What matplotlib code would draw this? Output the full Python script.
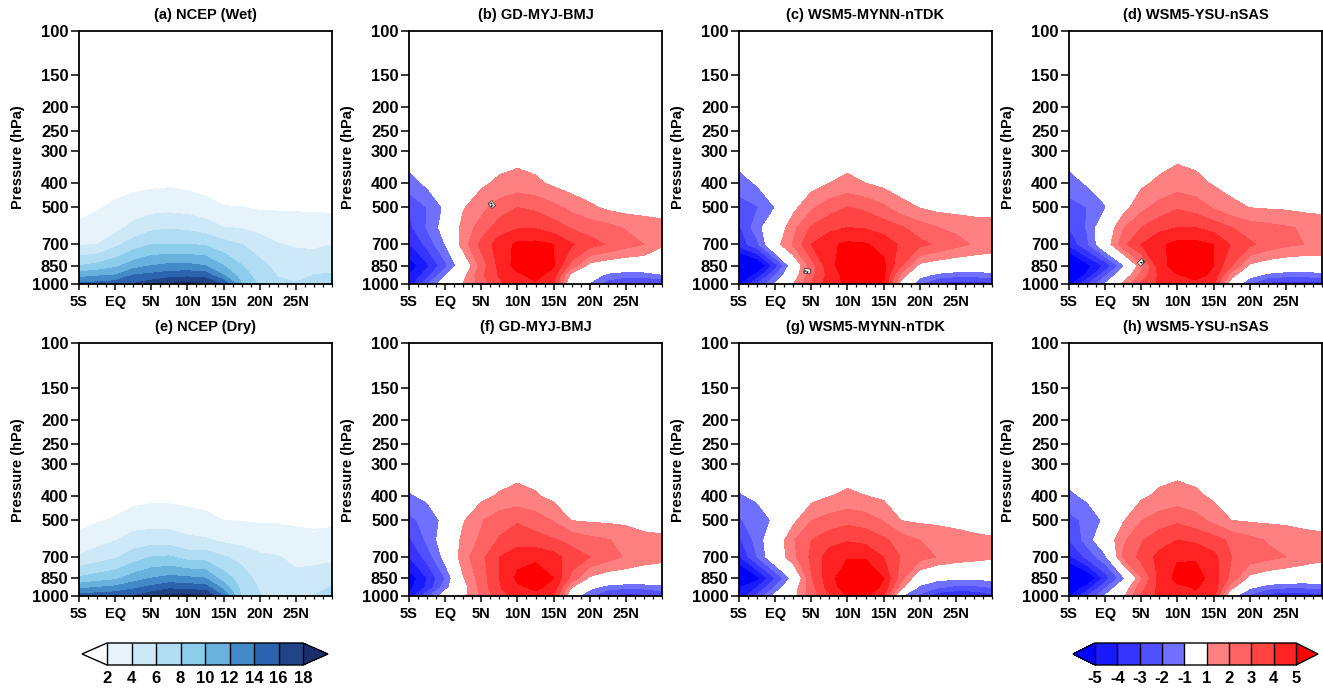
import numpy as np
import matplotlib
matplotlib.use('Agg')
import matplotlib.pyplot as plt
from matplotlib.colors import ListedColormap, BoundaryNorm
from matplotlib.ticker import MultipleLocator, NullLocator

plt.rcParams['font.family'] = ['Liberation Sans', 'DejaVu Sans']
plt.rcParams['font.weight'] = 'bold'
plt.rcParams['axes.titleweight'] = 'bold'
plt.rcParams['axes.labelweight'] = 'bold'

# grid: latitude (deg, negative = S) and pressure levels (hPa)
lat = [-5, -2.5, 0, 2.5, 5, 7.5, 10, 12.5, 15, 17.5, 20, 22.5, 25, 27.5, 30]
lev = [1000, 925, 850, 700, 600, 500, 400, 300, 200, 100]

# NCEP composites (one row per pressure level)
ncep_wet = [
    [14.3, 14.6, 15.0, 16.0, 17.0, 18.1, 18.4, 18.1, 15.5, 10.1, 7.6, 6.3, 6.1, 6.5, 7.0],
    [11.0, 11.6, 12.0, 14.0, 14.5, 15.0, 15.3, 15.0, 12.0, 9.0, 7.0, 5.9, 5.5, 6.0, 6.2],
    [8.0, 8.6, 9.5, 11.0, 12.0, 12.5, 12.5, 12.0, 10.0, 8.1, 6.5, 5.5, 5.0, 5.0, 5.3],
    [3.8, 4.0, 5.5, 7.0, 8.0, 8.0, 8.0, 7.8, 6.8, 6.0, 5.2, 4.1, 3.8, 3.7, 4.0],
    [2.5, 2.9, 3.3, 4.5, 5.5, 5.8, 5.6, 5.0, 4.0, 3.9, 3.3, 3.0, 2.8, 2.8, 2.8],
    [1.2, 1.8, 2.4, 3.0, 3.3, 3.4, 3.2, 2.8, 2.1, 2.05, 1.8, 1.8, 1.8, 1.75, 1.7],
    [0.5, 0.7, 1.2, 1.4, 1.6, 1.7, 1.5, 1.2, 0.9, 0.8, 0.6, 0.6, 0.5, 0.5, 0.5],
    [0.2, 0.2, 0.3, 0.4, 0.5, 0.5, 0.4, 0.3, 0.2, 0.2, 0.2, 0.2, 0.2, 0.2, 0.2],
    [0.1, 0.1, 0.1, 0.1, 0.1, 0.1, 0.1, 0.1, 0.1, 0.1, 0.1, 0.1, 0.1, 0.1, 0.1],
    [0.0, 0.0, 0.0, 0.0, 0.0, 0.0, 0.0, 0.0, 0.0, 0.0, 0.0, 0.0, 0.0, 0.0, 0.0],
]
ncep_dry = [
    [15.0, 15.2, 15.5, 16.0, 17.5, 18.6, 18.5, 18.4, 14.0, 7.8, 6.1, 5.5, 5.6, 6.05, 6.8],
    [11.5, 12.0, 12.5, 13.5, 14.5, 15.5, 15.2, 14.8, 11.3, 7.4, 5.8, 5.3, 5.2, 5.5, 6.1],
    [8.3, 9.0, 9.5, 11.0, 12.0, 12.6, 12.4, 12.0, 9.0, 7.0, 5.3, 5.0, 4.5, 4.6, 5.1],
    [4.2, 5.0, 5.7, 7.0, 8.0, 8.2, 7.2, 7.2, 6.2, 5.4, 4.3, 4.1, 3.5, 3.6, 3.6],
    [2.6, 3.3, 3.9, 4.9, 5.1, 5.0, 4.4, 4.2, 3.6, 3.3, 3.1, 3.0, 2.6, 2.5, 2.7],
    [1.3, 1.8, 2.2, 2.9, 3.1, 3.1, 2.9, 2.6, 1.95, 1.9, 1.8, 1.8, 1.7, 1.6, 1.6],
    [0.5, 0.7, 1.0, 1.3, 1.5, 1.5, 1.3, 1.1, 0.8, 0.7, 0.6, 0.6, 0.5, 0.5, 0.5],
    [0.2, 0.2, 0.3, 0.4, 0.4, 0.4, 0.4, 0.3, 0.2, 0.2, 0.2, 0.2, 0.2, 0.2, 0.2],
    [0.1, 0.1, 0.1, 0.1, 0.1, 0.1, 0.1, 0.1, 0.1, 0.1, 0.1, 0.1, 0.1, 0.1, 0.1],
    [0.0, 0.0, 0.0, 0.0, 0.0, 0.0, 0.0, 0.0, 0.0, 0.0, 0.0, 0.0, 0.0, 0.0, 0.0],
]

# model minus NCEP differences
gd_wet = [
    [-4.7, -2.2, -0.2, 1.0, 2.4, 3.8, 4.6, 4.9, 4.0, -0.2, -1.1, -2.5, -3.2, -3.3, -3.1],
    [-5.0, -3.5, -1.1, 0.6, 2.8, 4.1, 4.8, 5.3, 4.6, 0.5, -0.3, -1.3, -1.6, -1.5, -1.1],
    [-5.6, -4.2, -2.3, -0.1, 2.4, 4.3, 5.4, 5.6, 5.1, 2.6, 0.6, 0.2, 0.0, 0.0, 0.1],
    [-4.1, -2.7, -1.0, 1.5, 3.3, 4.5, 5.2, 5.3, 5.0, 4.1, 3.4, 2.9, 2.4, 2.0, 1.1],
    [-3.3, -1.9, -0.5, 1.4, 2.4, 3.5, 3.9, 3.9, 3.5, 2.9, 2.6, 2.3, 1.9, 1.7, 1.5],
    [-2.9, -2.0, -0.8, 0.9, 1.7, 2.5, 3.0, 2.8, 2.3, 1.7, 1.2, 0.8, 0.6, 0.5, 0.4],
    [-1.4, -0.8, -0.3, 0.2, 0.8, 1.2, 1.4, 1.2, 0.8, 0.5, 0.3, 0.2, 0.1, 0.1, 0.1],
    [-0.5, -0.3, -0.1, 0.0, 0.3, 0.5, 0.6, 0.5, 0.3, 0.2, 0.1, 0.1, 0.1, 0.1, 0.1],
    [0.0, 0.0, 0.0, 0.0, 0.0, 0.0, 0.0, 0.0, 0.0, 0.0, 0.0, 0.0, 0.0, 0.0, 0.0],
    [0.0, 0.0, 0.0, 0.0, 0.0, 0.0, 0.0, 0.0, 0.0, 0.0, 0.0, 0.0, 0.0, 0.0, 0.0],
]
mynn_wet = [
    [-5.3, -3.1, -1.0, 0.9, 3.0, 4.6, 5.2, 5.3, 5.1, 0.5, -1.8, -3.2, -3.5, -3.5, -3.3],
    [-6.2, -4.7, -2.1, 0.3, 2.6, 4.4, 5.4, 5.6, 5.1, 1.6, -0.6, -1.3, -1.6, -1.6, -1.4],
    [-7.5, -6.4, -3.5, -0.2, 2.5, 4.7, 5.6, 5.8, 5.3, 3.0, 0.7, 0.3, 0.1, 0.0, 0.0],
    [-3.6, -2.3, 0.5, 2.1, 4.0, 4.8, 5.2, 5.1, 4.6, 3.8, 3.3, 2.8, 2.3, 1.9, 1.6],
    [-3.2, -1.4, 0.0, 1.7, 3.1, 3.7, 4.0, 3.9, 3.6, 3.1, 2.5, 2.0, 1.8, 1.6, 1.5],
    [-2.6, -2.1, -1.0, 0.7, 1.8, 2.6, 3.05, 2.8, 2.2, 1.4, 0.97, 0.7, 0.6, 0.5, 0.5],
    [-1.4, -0.9, -0.4, 0.2, 0.6, 1.0, 1.3, 1.0, 0.7, 0.4, 0.3, 0.2, 0.2, 0.1, 0.1],
    [-0.5, -0.3, -0.1, 0.0, 0.2, 0.4, 0.4, 0.4, 0.2, 0.1, 0.1, 0.1, 0.1, 0.1, 0.1],
    [0.0, 0.0, 0.0, 0.0, 0.0, 0.0, 0.0, 0.0, 0.0, 0.0, 0.0, 0.0, 0.0, 0.0, 0.0],
    [0.0, 0.0, 0.0, 0.0, 0.0, 0.0, 0.0, 0.0, 0.0, 0.0, 0.0, 0.0, 0.0, 0.0, 0.0],
]
ysu_wet = [
    [-5.4, -3.2, -1.0, 1.2, 3.1, 4.2, 4.7, 4.8, 4.1, 0.2, -2.0, -3.3, -3.6, -3.6, -3.3],
    [-6.2, -4.8, -2.3, 0.0, 2.3, 4.2, 4.95, 5.3, 4.8, 1.5, -0.5, -1.3, -1.6, -1.6, -1.4],
    [-7.3, -5.4, -3.8, -1.2, 1.6, 4.6, 5.5, 5.6, 5.0, 3.0, 0.8, 0.3, 0.1, 0.0, 0.0],
    [-3.8, -2.2, 0.2, 2.7, 4.0, 4.8, 5.3, 5.3, 5.0, 3.9, 3.2, 2.6, 2.2, 2.0, 1.9],
    [-3.0, -1.9, 0.0, 1.9, 3.0, 3.7, 4.0, 4.0, 3.6, 3.0, 2.5, 2.3, 2.1, 1.9, 1.8],
    [-2.5, -2.0, -1.1, 0.6, 1.7, 2.4, 2.9, 2.6, 1.9, 1.3, 0.98, 0.9, 0.85, 0.7, 0.6],
    [-1.4, -0.9, -0.4, 0.1, 0.8, 1.2, 1.5, 1.3, 0.9, 0.6, 0.4, 0.3, 0.3, 0.2, 0.2],
    [-0.5, -0.3, -0.1, 0.0, 0.3, 0.5, 0.7, 0.6, 0.3, 0.2, 0.1, 0.1, 0.1, 0.1, 0.1],
    [0.0, 0.0, 0.0, 0.0, 0.0, 0.0, 0.0, 0.0, 0.0, 0.0, 0.0, 0.0, 0.0, 0.0, 0.0],
    [0.0, 0.0, 0.0, 0.0, 0.0, 0.0, 0.0, 0.0, 0.0, 0.0, 0.0, 0.0, 0.0, 0.0, 0.0],
]
gd_dry = [
    [-4.6, -2.3, -0.3, 0.7, 2.2, 3.5, 4.5, 4.7, 4.0, -0.3, -1.9, -3.2, -3.4, -3.4, -3.0],
    [-5.3, -3.8, -1.4, 0.5, 2.4, 3.9, 4.8, 5.2, 4.7, 1.0, -0.7, -1.5, -1.8, -1.7, -1.4],
    [-5.7, -4.0, -2.0, 0.9, 2.5, 4.0, 5.2, 5.6, 5.0, 2.7, 0.8, 0.3, 0.2, 0.1, 0.1],
    [-4.0, -2.6, -0.6, 1.6, 2.7, 4.0, 4.7, 4.8, 4.4, 3.5, 3.0, 2.4, 1.9, 1.5, 1.3],
    [-3.2, -1.8, -0.3, 1.3, 2.2, 3.1, 3.5, 3.4, 3.1, 2.7, 2.3, 2.05, 1.7, 1.3, 1.2],
    [-2.3, -1.6, -0.7, 0.9, 1.9, 2.6, 2.9, 2.5, 1.9, 0.95, 0.85, 0.8, 0.75, 0.6, 0.6],
    [-1.1, -0.8, -0.3, 0.2, 0.7, 1.1, 1.3, 1.1, 0.7, 0.4, 0.3, 0.2, 0.2, 0.1, 0.1],
    [-0.4, -0.3, -0.1, 0.0, 0.2, 0.4, 0.6, 0.5, 0.2, 0.1, 0.1, 0.1, 0.1, 0.1, 0.1],
    [0.0, 0.0, 0.0, 0.0, 0.0, 0.0, 0.0, 0.0, 0.0, 0.0, 0.0, 0.0, 0.0, 0.0, 0.0],
    [0.0, 0.0, 0.0, 0.0, 0.0, 0.0, 0.0, 0.0, 0.0, 0.0, 0.0, 0.0, 0.0, 0.0, 0.0],
]
mynn_dry = [
    [-4.9, -2.7, -0.6, 0.6, 2.5, 3.8, 5.0, 5.1, 4.0, -1.0, -2.3, -3.8, -4.1, -4.0, -3.4],
    [-5.1, -4.0, -1.9, 0.4, 2.6, 4.5, 5.5, 5.6, 4.8, 1.3, -1.3, -1.9, -2.3, -2.3, -2.0],
    [-7.0, -5.4, -3.0, -0.6, 2.9, 4.6, 5.8, 5.9, 5.0, 2.3, 0.0, -0.7, -0.8, -0.8, -0.7],
    [-4.1, -2.0, 0.1, 1.7, 3.2, 4.5, 4.9, 4.9, 4.0, 2.9, 2.4, 1.95, 1.6, 1.4, 1.2],
    [-3.2, -1.6, 0.0, 1.9, 3.0, 3.6, 3.9, 3.7, 3.2, 2.5, 2.0, 1.7, 1.4, 1.2, 1.1],
    [-2.1, -1.6, -0.8, 0.7, 1.95, 2.4, 2.7, 2.5, 1.9, 0.95, 0.8, 0.75, 0.7, 0.65, 0.6],
    [-1.1, -0.8, -0.4, 0.1, 0.6, 0.95, 1.2, 1.0, 0.8, 0.5, 0.3, 0.2, 0.2, 0.1, 0.1],
    [-0.4, -0.3, -0.1, 0.0, 0.2, 0.3, 0.4, 0.3, 0.2, 0.1, 0.1, 0.1, 0.1, 0.1, 0.1],
    [0.0, 0.0, 0.0, 0.0, 0.0, 0.0, 0.0, 0.0, 0.0, 0.0, 0.0, 0.0, 0.0, 0.0, 0.0],
    [0.0, 0.0, 0.0, 0.0, 0.0, 0.0, 0.0, 0.0, 0.0, 0.0, 0.0, 0.0, 0.0, 0.0, 0.0],
]
ysu_dry = [
    [-5.2, -3.0, -0.9, 0.8, 3.1, 4.3, 4.8, 4.9, 4.2, -0.6, -2.3, -3.6, -3.9, -3.8, -3.4],
    [-6.0, -4.6, -2.2, 0.1, 2.6, 4.3, 4.8, 5.05, 4.7, 1.3, -0.8, -1.6, -1.9, -1.9, -1.7],
    [-7.4, -6.2, -3.6, -1.3, 1.9, 4.3, 5.3, 5.4, 4.6, 2.6, 0.7, 0.2, 0.0, -0.1, -0.1],
    [-4.3, -2.7, -1.3, 2.2, 3.3, 4.3, 4.9, 4.9, 4.3, 3.0, 2.6, 2.3, 2.0, 1.6, 1.3],
    [-3.0, -1.6, 0.1, 1.8, 2.9, 3.6, 4.0, 3.8, 3.4, 2.8, 2.3, 1.9, 1.7, 1.5, 1.3],
    [-2.4, -1.7, -0.8, 0.9, 1.95, 2.5, 2.8, 2.4, 1.7, 0.97, 0.85, 0.8, 0.75, 0.6, 0.6],
    [-1.2, -0.8, -0.3, 0.3, 0.8, 1.2, 1.4, 1.2, 0.8, 0.5, 0.3, 0.2, 0.2, 0.1, 0.1],
    [-0.4, -0.3, -0.1, 0.0, 0.3, 0.5, 0.6, 0.5, 0.3, 0.1, 0.1, 0.1, 0.1, 0.1, 0.1],
    [0.0, 0.0, 0.0, 0.0, 0.0, 0.0, 0.0, 0.0, 0.0, 0.0, 0.0, 0.0, 0.0, 0.0, 0.0],
    [0.0, 0.0, 0.0, 0.0, 0.0, 0.0, 0.0, 0.0, 0.0, 0.0, 0.0, 0.0, 0.0, 0.0, 0.0],
]

fields = [ncep_wet, gd_wet, mynn_wet, ysu_wet, ncep_dry, gd_dry, mynn_dry, ysu_dry]
titles = ['(a) NCEP (Wet)', '(b) GD-MYJ-BMJ', '(c) WSM5-MYNN-nTDK', '(d) WSM5-YSU-nSAS',
          '(e) NCEP (Dry)', '(f) GD-MYJ-BMJ', '(g) WSM5-MYNN-nTDK', '(h) WSM5-YSU-nSAS']

xtick_vals = [-5, 0, 5, 10, 15, 20, 25]
xtick_labels = ['5S', 'EQ', '5N', '10N', '15N', '20N', '25N']
ytick_vals = [100, 150, 200, 250, 300, 400, 500, 700, 850, 1000]

# shading for the NCEP fields
q_levels = [2, 4, 6, 8, 10, 12, 14, 16, 18]
q_colors = ['#e7f3fa', '#cde8f6', '#b0ddf3', '#8dcdec', '#68b1de',
            '#428ac8', '#2b63ae', '#1f4488']
q_under, q_over = '#ffffff', '#1c2d6b'

# shading for the differences
d_levels = [-5, -4, -3, -2, -1, 1, 2, 3, 4, 5]
d_colors = ['#1a1aff', '#3535ff', '#5151ff', '#7070ff', '#ffffff',
            '#ff8080', '#ff6262', '#ff4444', '#ff2222']
d_under, d_over = '#0000ff', '#ff0000'

# where the "2" contour gets its inline label
label_pos = {1: (6.2, 476), 2: (4.7, 896), 3: (5.0, 825)}


def make_cmap(colors, under, over, levels):
    cmap = ListedColormap(colors)
    cmap.set_under(under)
    cmap.set_over(over)
    return cmap, BoundaryNorm(levels, cmap.N)


q_cmap, q_norm = make_cmap(q_colors, q_under, q_over, q_levels)
d_cmap, d_norm = make_cmap(d_colors, d_under, d_over, d_levels)

W, H = 1323, 688
fig = plt.figure(figsize=(W / 100, H / 100), dpi=100)

col_left = [79, 409, 739, 1069]
row_top = [31, 343.5]
ax_w, ax_h = 253, 252.5

cf_q = cf_d = None
for i, field in enumerate(fields):
    r, c = divmod(i, 4)
    ax = fig.add_axes([col_left[c] / W, 1 - (row_top[r] + ax_h) / H, ax_w / W, ax_h / H])
    z = np.array(field)
    if c == 0:
        cf_q = ax.contourf(lat, lev, z, levels=q_levels, cmap=q_cmap, norm=q_norm, extend='both')
    else:
        cf_d = ax.contourf(lat, lev, z, levels=d_levels, cmap=d_cmap, norm=d_norm, extend='both')

    ax.set_yscale('log')
    ax.set_ylim(1000, 100)
    ax.set_xlim(-5, 30)

    if i in label_pos:
        cs = ax.contour(lat, lev, z, levels=[2], colors='none', linewidths=0)
        lbls = ax.clabel(cs, fmt='%d', fontsize=4.5, colors='black', inline=False,
                         manual=[label_pos[i]])
        for t in lbls:
            t.set_bbox(dict(boxstyle='square,pad=0.1', fc='white', ec='black', lw=0.4))

    ax.set_yticks(ytick_vals, labels=[str(v) for v in ytick_vals])
    ax.yaxis.set_minor_locator(NullLocator())
    ax.set_xticks(xtick_vals, labels=xtick_labels)
    ax.xaxis.set_minor_locator(MultipleLocator(1.25))
    ax.tick_params(axis='y', which='major', direction='out', length=5.5, width=1.1,
                   labelsize=12, pad=2)
    ax.tick_params(axis='x', which='major', direction='out', length=4, width=1.1,
                   labelsize=10.5, pad=4)
    ax.tick_params(axis='x', which='minor', direction='out', length=2.5, width=0.9)
    for s in ax.spines.values():
        s.set_linewidth(1.3)

    ax.set_ylabel('Pressure (hPa)', fontsize=10.5, labelpad=5)
    ax.set_title(titles[i], fontsize=10.5, pad=9)

# colour bars (axes span includes the end triangles)
cax1 = fig.add_axes([82 / W, 1 - 665 / H, 246 / W, 22 / H])
cb1 = fig.colorbar(cf_q, cax=cax1, orientation='horizontal', extend='both',
                   extendfrac=25 / 196, drawedges=True, ticks=q_levels)
cax2 = fig.add_axes([1073 / W, 1 - 665 / H, 245 / W, 22 / H])
cb2 = fig.colorbar(cf_d, cax=cax2, orientation='horizontal', extend='both',
                   extendfrac=22 / 202, drawedges=True, ticks=d_levels)
for cb in (cb1, cb2):
    cb.outline.set_linewidth(1.0)
    cb.dividers.set_color('black')
    cb.dividers.set_linewidth(1.0)
    cb.ax.tick_params(length=0, labelsize=12, pad=4)
    cb.ax.xaxis.set_minor_locator(NullLocator())
cb2.ax.set_xticklabels([str(v) for v in d_levels])

fig.savefig('out.png', dpi=100)
